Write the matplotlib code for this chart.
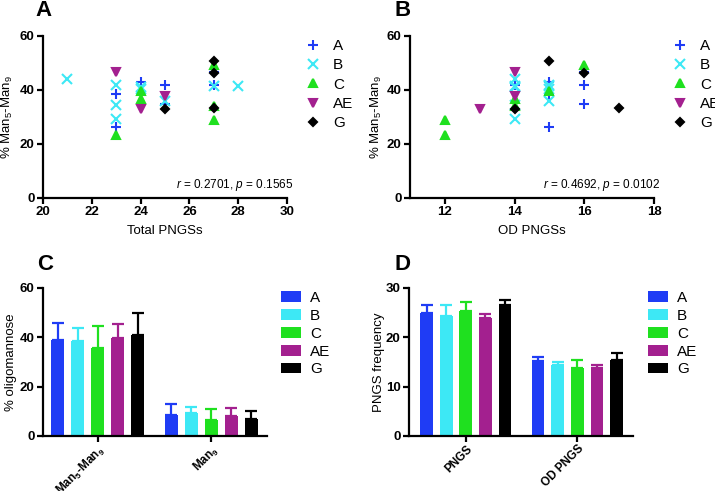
import numpy as np
import matplotlib
matplotlib.use('Agg')
import matplotlib.pyplot as plt

plt.rcParams['font.family'] = ['Liberation Sans', 'DejaVu Sans']
plt.rcParams['mathtext.fontset'] = 'custom'
plt.rcParams['mathtext.rm'] = 'Liberation Sans'
plt.rcParams['mathtext.it'] = 'Liberation Sans:italic'
plt.rcParams['mathtext.bf'] = 'Liberation Sans:bold'

clades = ['A', 'B', 'C', 'AE', 'G']
colors = ['#1f3cf5', '#3de8f5', '#1fe01f', '#a3208f', '#000000']
markers = ['+', 'x', '^', 'v', 'D']

# per-sample values, one list per clade
man59_A = [38.4, 26.4, 42.8, 41.8, 35.0, 46.5, 42.0]
total_A = [23, 23, 24, 25, 25, 27, 27]
od_A = [15, 15, 15, 16, 16, 16, 14]

man59_B = [44.0, 42.0, 34.4, 29.4, 41.2, 40.5, 36.0, 41.5, 41.3]
total_B = [21, 23, 23, 23, 24, 24, 25, 27, 28]
od_B = [14, 15, 14, 14, 14, 15, 15, 14, 15]

man59_C = [23.5, 39.5, 36.8, 49.2, 34.2, 29.0]
total_C = [23, 24, 24, 27, 27, 27]
od_C = [12, 15, 14, 16, 14, 12]

man59_AE = [46.5, 33.0, 37.7]
total_AE = [23, 24, 25]
od_AE = [14, 13, 14]

man59_G = [32.8, 50.6, 46.4, 33.5]
total_G = [25, 27, 27, 27]
od_G = [14, 15, 16, 17]

man59 = [man59_A, man59_B, man59_C, man59_AE, man59_G]
total = [total_A, total_B, total_C, total_AE, total_G]
od = [od_A, od_B, od_C, od_AE, od_G]

# bar panels: means and SD
groups_c = ['Man$_\\mathbf{5}$-Man$_\\mathbf{9}$', 'Man$_\\mathbf{9}$']
mean_man59 = [39.0, 38.4, 35.5, 39.6, 40.9]
sd_man59 = [6.8, 5.2, 9.0, 5.9, 9.0]
mean_man9 = [8.5, 9.5, 6.4, 8.0, 6.8]
sd_man9 = [4.6, 2.3, 4.7, 3.2, 3.3]

groups_d = ['PNGS', 'OD PNGS']
mean_pngs = [24.9, 24.3, 25.3, 24.0, 26.5]
sd_pngs = [1.7, 2.3, 1.9, 0.8, 1.1]
mean_od = [15.2, 14.3, 13.8, 13.7, 15.4]
sd_od = [0.9, 0.6, 1.6, 0.6, 1.4]

fig = plt.figure(figsize=(7.15, 4.91), dpi=100)
W, H = 715, 491


def add_ax(x0, x1, ytop, ybot):
    return fig.add_axes([x0 / W, 1 - ybot / H, (x1 - x0) / W, (ybot - ytop) / H])


def style(ax, xsize=9.5, xpad=2):
    for s in ['top', 'right']:
        ax.spines[s].set_visible(False)
    for s in ['left', 'bottom']:
        ax.spines[s].set_linewidth(1.6)
    ax.tick_params(width=1.6, length=4, labelsize=9.5, pad=2)
    ax.tick_params(axis='x', labelsize=xsize, pad=xpad)
    for lab in ax.get_xticklabels() + ax.get_yticklabels():
        lab.set_fontweight('bold')


def scatter_panel(ax, xs, xlim, xticks, xlabel, stat):
    for i in range(len(clades)):
        if markers[i] == 'D':
            ms = 3.8
        elif markers[i] in ['^', 'v']:
            ms = 5.5
        else:
            ms = 6.5
        ax.plot(xs[i], man59[i], linestyle='none', marker=markers[i], color=colors[i],
                markersize=ms, markeredgewidth=1.5, label=clades[i])
    ax.set_xlim(xlim)
    ax.set_ylim(0, 60)
    ax.set_xticks(xticks)
    ax.set_yticks([0, 20, 40, 60])
    ax.set_xlabel(xlabel, fontsize=9.5, labelpad=5)
    ax.set_ylabel('% Man$_5$-Man$_9$', fontsize=9.5)
    ax.text(1.025, 0.078, stat, transform=ax.transAxes, ha='right', va='center', fontsize=8.5)
    ax.legend(loc='upper left', bbox_to_anchor=(1.05, 1.02), frameon=False, fontsize=11,
              handlelength=1.0, handletextpad=0.8, labelspacing=0.35, borderaxespad=0)
    style(ax)


def bar_panel(ax, means, sds, groups, ylim, yticks, ylabel, xlim, legx):
    centers = np.arange(len(groups))
    step = 0.176
    for i in range(len(clades)):
        xs = centers + (i - 2) * step
        hs = [m[i] for m in means]
        es = [s[i] for s in sds]
        ax.bar(xs, hs, width=0.114, color=colors[i], label=clades[i],
               yerr=[np.zeros(len(hs)), es],
               error_kw=dict(ecolor=colors[i], elinewidth=1.6, capsize=4, capthick=1.6))
    ax.set_xlim(xlim)
    ax.set_ylim(ylim)
    ax.set_yticks(yticks)
    ax.set_xticks(centers)
    ax.set_xticklabels(groups, rotation=45, ha='right', rotation_mode='anchor')
    ax.set_ylabel(ylabel, fontsize=9.5)
    ax.legend(loc='upper left', bbox_to_anchor=(legx, 1.02), frameon=False, fontsize=11,
              handlelength=1.3, handleheight=0.7, handletextpad=0.6, labelspacing=0.25,
              borderaxespad=0)
    style(ax, xsize=8.5, xpad=1)


axA = add_ax(43, 287, 36, 198)
scatter_panel(axA, total, (20, 30), [20, 22, 24, 26, 28, 30], 'Total PNGSs',
              '$\\it{r}$ = 0.2701, $\\it{p}$ = 0.1565')
axA.yaxis.set_label_coords(-0.113, 0.5)

axB = add_ax(410, 654, 36, 198)
scatter_panel(axB, od, (11, 18), [12, 14, 16, 18], 'OD PNGSs',
              '$\\it{r}$ = 0.4692, $\\it{p}$ = 0.0102')
axB.yaxis.set_label_coords(-0.105, 0.5)

axC = add_ax(43, 267, 288, 436)
bar_panel(axC, [mean_man59, mean_man9], [sd_man59, sd_man9], groups_c, (0, 60),
          [0, 20, 40, 60], '% oligomannose', (-0.48, 1.49), 1.035)
axC.yaxis.set_label_coords(-0.118, 0.5)

axD = add_ax(409, 633, 288, 436)
bar_panel(axD, [mean_pngs, mean_od], [sd_pngs, sd_od], groups_d, (0, 30),
          [0, 10, 20, 30], 'PNGS frequency', (-0.51, 1.5), 1.04)
axD.yaxis.set_label_coords(-0.105, 0.5)

for letter, x, y in [('A', 35, 10), ('B', 395, 10), ('C', 37, 265), ('D', 395, 265)]:
    fig.text(x / W, 1 - y / H, letter, fontsize=16, fontweight='bold', va='center', ha='left')

fig.savefig('out.png', dpi=100)
